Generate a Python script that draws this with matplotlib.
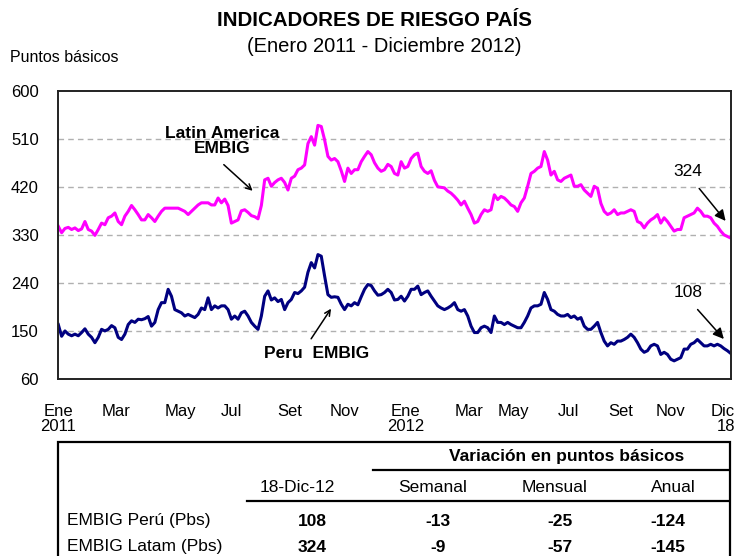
import matplotlib
matplotlib.use("Agg")
import matplotlib.pyplot as plt
from matplotlib.patches import Rectangle
from matplotlib.lines import Line2D
import numpy as np

plt.rcParams["font.family"] = ["Liberation Sans", "DejaVu Sans"]

# EMBIG spreads (pbs), Jan-2011 .. 18-Dec-2012
latam = [
    346, 334, 342, 344, 340, 343, 338, 341, 355, 340, 337, 329, 340, 352, 349, 362, 365,
    371, 355, 349, 365, 374, 385, 377, 368, 358, 358, 368, 362, 355, 365, 374, 380, 380,
    380, 380, 380, 377, 374, 368, 374, 380, 386, 390, 390, 390, 386, 386, 399, 390, 397,
    385, 352, 355, 358, 375, 377, 372, 366, 364, 360, 385, 433, 436, 421, 428, 433, 436,
    428, 414, 436, 440, 452, 455, 461, 501, 514, 498, 535, 533, 508, 477, 470, 473, 467,
    450, 430, 455, 445, 452, 452, 467, 477, 486, 480, 465, 455, 449, 452, 462, 458, 445,
    442, 467, 455, 458, 473, 480, 483, 458, 449, 445, 450, 432, 420, 419, 418, 412, 408,
    402, 395, 386, 393, 380, 368, 352, 355, 368, 377, 374, 377, 405, 396, 402, 399, 393,
    386, 383, 374, 390, 399, 421, 445, 449, 455, 458, 486, 470, 442, 449, 433, 430, 436,
    439, 442, 421, 421, 424, 414, 408, 402, 421, 417, 389, 374, 368, 371, 377, 368, 371,
    371, 374, 377, 374, 355, 352, 343, 352, 358, 362, 368, 352, 362, 355, 346, 337, 340,
    340, 362, 365, 368, 371, 380, 374, 365, 365, 362, 352, 346, 337, 330, 327, 324,
]
peru = [
    162, 140, 150, 144, 141, 144, 141, 147, 154, 144, 138, 128, 138, 153, 150, 153, 160,
    156, 138, 134, 144, 162, 169, 166, 172, 171, 173, 177, 159, 166, 190, 203, 203, 228,
    215, 190, 187, 184, 178, 181, 178, 175, 181, 193, 190, 212, 190, 197, 193, 197, 197,
    190, 172, 178, 172, 184, 187, 178, 166, 159, 153, 178, 215, 225, 208, 212, 205, 209,
    190, 203, 209, 222, 220, 225, 232, 260, 278, 268, 293, 290, 253, 218, 213, 214, 213,
    200, 190, 200, 197, 203, 199, 214, 228, 237, 235, 225, 217, 218, 222, 228, 222, 208,
    209, 215, 206, 215, 228, 228, 234, 218, 222, 225, 215, 206, 197, 193, 190, 193, 197,
    203, 190, 187, 190, 178, 159, 147, 147, 156, 159, 156, 147, 178, 166, 166, 162, 166,
    162, 159, 156, 156, 166, 178, 193, 197, 197, 200, 222, 209, 190, 187, 181, 178, 178,
    181, 175, 178, 172, 175, 159, 153, 153, 159, 166, 147, 131, 122, 128, 125, 131, 131,
    134, 138, 144, 138, 128, 116, 110, 113, 122, 125, 122, 106, 110, 106, 97, 94, 97,
    100, 116, 116, 125, 128, 134, 128, 122, 122, 125, 122, 125, 122, 117, 113, 108,
]

month_labels = ["Ene\n2011", "Mar", "May", "Jul", "Set", "Nov", "Ene\n2012",
                "Mar", "May", "Jul", "Set", "Nov", "Dic\n18"]
month_idx = [0, 17.3, 36.8, 52, 69.5, 86, 104.3, 123.5, 136.7, 153.2, 169, 184, 199.7]

y_ticks = [60, 150, 240, 330, 420, 510, 600]

table_date = "18-Dic-12"
table_cols = ["Semanal", "Mensual", "Anual"]
row_names = ["EMBIG Perú (Pbs)", "EMBIG Latam (Pbs)"]
row_level = [108, 324]
row_changes = [[-13, -25, -124], [-9, -57, -145]]

W, H = 747, 556
fig = plt.figure(figsize=(W / 100, H / 100), dpi=100)
ax = fig.add_axes([58.3 / W, 1 - 379 / H, (730.7 - 58.3) / W, (379 - 90.7) / H])

x = np.arange(len(latam))
ax.plot(x, latam, color="#FF00FF", lw=2.2, solid_joinstyle="round")
ax.plot(x, peru, color="#000080", lw=2.2, solid_joinstyle="round")

ax.set_xlim(0, len(latam) - 1)
ax.set_ylim(60, 600)
ax.set_yticks(y_ticks)
ax.set_xticks(month_idx)
ax.set_xticklabels(month_labels, fontsize=12, linespacing=1.0)
ax.get_xticklabels()[-1].set_multialignment("right")
ax.tick_params(axis="x", length=0, pad=18)
ax.tick_params(axis="y", length=0, pad=14, labelsize=12)
for yv in y_ticks[1:-1]:
    ax.axhline(yv, color="#B0B0B0", lw=1.0, ls=(0, (4, 3)), zorder=0)
for s in ax.spines.values():
    s.set_color("#222222")
    s.set_linewidth(1.4)

# annotations
ax.text(49.3, 506, "Latin America\nEMBIG", ha="center", va="center", fontsize=12.5,
        fontweight="bold", linespacing=1.05)
ax.annotate("", xy=(59.0, 409), xytext=(49.1, 465),
            arrowprops=dict(arrowstyle="->", lw=1.1, color="black", mutation_scale=10))
ax.text(77.6, 107, "Peru  EMBIG", ha="center", va="center", fontsize=12.5, fontweight="bold")
ax.annotate("", xy=(82.4, 196), xytext=(75.5, 131),
            arrowprops=dict(arrowstyle="->", lw=1.1, color="black", mutation_scale=10))
ax.text(189.1, 449, str(row_level[1]), ha="center", va="center", fontsize=12.5)
ax.annotate("", xy=(201, 352), xytext=(192, 421),
            arrowprops=dict(arrowstyle="-|>", lw=1.1, color="black", mutation_scale=16))
ax.text(189.1, 222, str(row_level[0]), ha="center", va="center", fontsize=12.5)
ax.annotate("", xy=(200.5, 131), xytext=(191.5, 194),
            arrowprops=dict(arrowstyle="-|>", lw=1.1, color="black", mutation_scale=16))

# titles
fig.text(374 / W, 1 - 20 / H, "INDICADORES DE RIESGO PAÍS", ha="center", va="center",
         fontsize=14.8, fontweight="bold")
fig.text(384 / W, 1 - 47 / H, "(Enero 2011 - Diciembre 2012)", ha="center", va="center",
         fontsize=14.5)
fig.text(10 / W, 1 - 58 / H, "Puntos básicos", ha="left", va="center", fontsize=11.5)


# summary table
def fx(px):
    return px / W


def fy(py):
    return 1 - py / H


fig.add_artist(Rectangle((fx(58), fy(600)), fx(730) - fx(58), fy(442) - fy(600),
                         transform=fig.transFigure, fill=False, lw=1.6, ec="black"))
fig.add_artist(Line2D([fx(373), fx(728)], [fy(470), fy(470)], transform=fig.transFigure,
                      color="black", lw=1.6))
fig.add_artist(Line2D([fx(247), fx(728)], [fy(501), fy(501)], transform=fig.transFigure,
                      color="black", lw=1.6))

fig.text(fx(567), fy(457), "Variación en puntos básicos", ha="center", va="center",
         fontsize=12.5, fontweight="bold")
col_x = [433, 555, 673]
fig.text(fx(297), fy(487), table_date, ha="center", va="center", fontsize=12.5)
for cx, name in zip(col_x, table_cols):
    fig.text(fx(cx), fy(487), name, ha="center", va="center", fontsize=12.5)

row_y = [521, 547]
val_x = [438, 560, 668]
for ry, name, lvl, chg in zip(row_y, row_names, row_level, row_changes):
    fig.text(fx(67), fy(ry), name, ha="left", va="center", fontsize=12.5)
    fig.text(fx(312), fy(ry), str(lvl), ha="center", va="center", fontsize=12.5,
             fontweight="bold")
    for vx, v in zip(val_x, chg):
        fig.text(fx(vx), fy(ry), str(v), ha="center", va="center", fontsize=12.5,
                 fontweight="bold")

fig.savefig("out.png", dpi=100)
